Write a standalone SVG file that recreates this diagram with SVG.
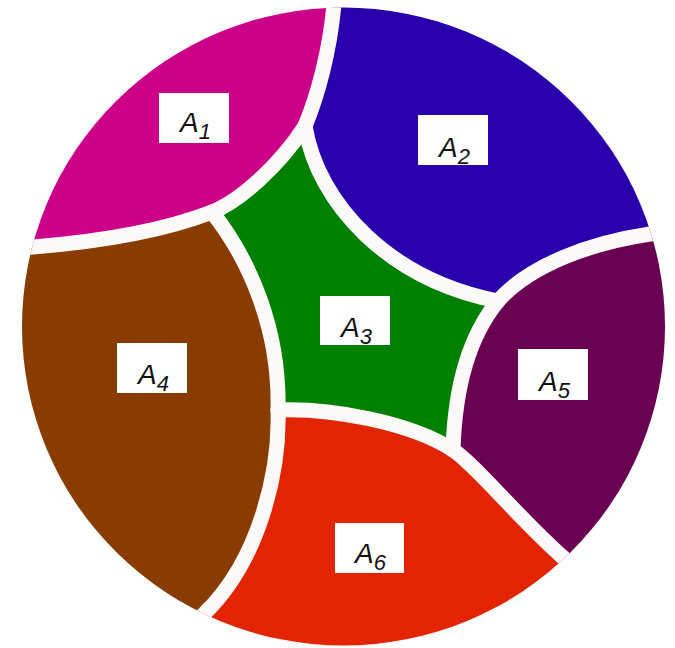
<svg xmlns="http://www.w3.org/2000/svg" width="675" height="648" viewBox="0 0 675 648">
<style>
.gap{fill:none;stroke:#fcf9f9;stroke-width:15;stroke-linejoin:round;stroke-linecap:round}
.box{fill:#ffffff}
.lbl{font-family:"Liberation Sans",Arial,sans-serif;font-style:italic;font-size:28px;fill:#111111}
.sub{font-size:22px}
</style>
<defs>
<clipPath id="disc"><ellipse cx="343.5" cy="326.5" rx="321.5" ry="319"/></clipPath>
</defs>
<rect width="675" height="648" fill="#ffffff"/>
<g clip-path="url(#disc)">
<g id="A1"><path fill="#cc0088" d="M-10,251 L33,247 C95,242 163,231 212,212 C240,201 280,165 305,126 C318,95 330,50 334,4 L336,-20 L-20,-20 L-20,251 Z"/></g>
<g id="A2"><path fill="#2900ab" d="M336,-20 L334,4 C330,50 318,95 305,126 C318,205 390,280 498,301 C530,265 590,243 650,234 L700,225 L700,-20 Z"/></g>
<g id="A3"><path fill="#008000" d="M305,126 C318,205 390,280 498,301 C470,335 455,385 453,450 C410,422 330,408 278,410 C280,330 250,260 212,212 C240,201 280,165 305,126 Z"/></g>
<g id="A4"><path fill="#883c00" d="M-10,251 L33,247 C95,242 163,231 212,212 C250,260 280,330 278,410 C280,470 260,560 204,614 L180,637 L-20,700 L-20,251 Z"/></g>
<g id="A5"><path fill="#6a0052" d="M690,228 L650,234 C590,243 530,265 498,301 C470,335 455,385 453,450 C475,464 520,520 566,560 L590,587 L700,700 L700,228 Z"/></g>
<g id="A6"><path fill="#e32400" d="M278,410 C330,408 410,422 453,450 C475,464 520,520 566,560 L590,587 L620,680 L160,680 L180,637 L204,614 C260,560 280,470 278,410 Z"/></g>
<g id="connectors">
<path class="gap" d="M305,126 C318,95 330,50 334,4 L336,-20"/>
<path class="gap" d="M-10,251 L33,247 C95,242 163,231 212,212"/>
<path class="gap" d="M212,212 C240,201 280,165 305,126"/>
<path class="gap" d="M305,126 C318,205 390,280 498,301"/>
<path class="gap" d="M498,301 C530,265 590,243 650,234 L690,228"/>
<path class="gap" d="M498,301 C470,335 455,385 453,450"/>
<path class="gap" d="M278,410 C330,408 410,422 453,450"/>
<path class="gap" d="M453,450 C475,464 520,520 566,560 L590,587"/>
<path class="gap" d="M212,212 C250,260 280,330 278,410"/>
<path class="gap" d="M278,410 C280,470 260,560 204,614 L180,637"/>
</g>
</g>
<g id="label-A1"><rect class="box" x="159" y="93" width="70" height="50"/><text class="lbl" x="180" y="132">A<tspan class="sub" dy="7">1</tspan></text></g>
<g id="label-A2"><rect class="box" x="418" y="115" width="70" height="50"/><text class="lbl" x="439" y="157">A<tspan class="sub" dy="7">2</tspan></text></g>
<g id="label-A3"><rect class="box" x="320" y="296" width="70" height="49"/><text class="lbl" x="341" y="337">A<tspan class="sub" dy="7">3</tspan></text></g>
<g id="label-A4"><rect class="box" x="117" y="343" width="70" height="50"/><text class="lbl" x="138" y="384">A<tspan class="sub" dy="7">4</tspan></text></g>
<g id="label-A5"><rect class="box" x="518" y="349" width="70" height="51"/><text class="lbl" x="539" y="391">A<tspan class="sub" dy="7">5</tspan></text></g>
<g id="label-A6"><rect class="box" x="335" y="523" width="69" height="50"/><text class="lbl" x="355" y="563">A<tspan class="sub" dy="7">6</tspan></text></g>
</svg>
